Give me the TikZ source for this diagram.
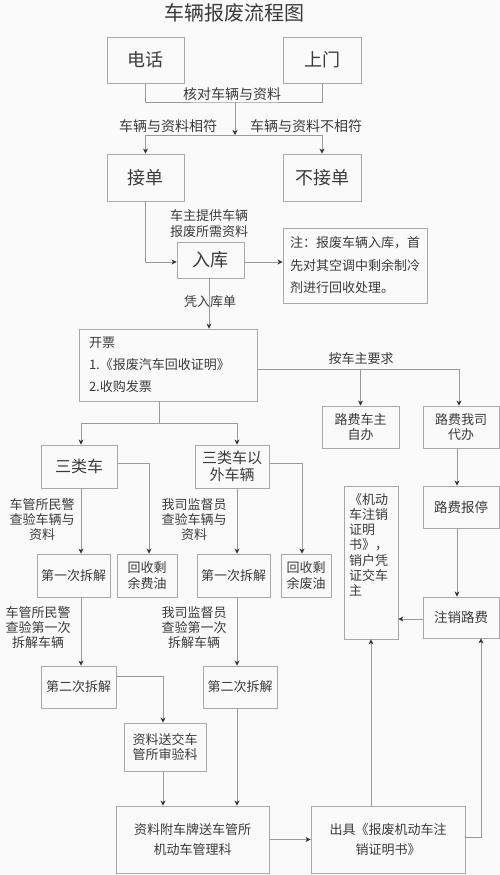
\documentclass[tikz,border=0pt]{standalone}
\usepackage{fontspec}
\setmainfont{Noto Sans CJK SC}
\usetikzlibrary{arrows.meta}
\definecolor{linec}{HTML}{9A9A9A}
\definecolor{boxc}{HTML}{A8A8A8}
\definecolor{txtc}{HTML}{3A3A3A}
\definecolor{tipc}{HTML}{333333}
\definecolor{bgc}{HTML}{FAFAFA}
\begin{document}
\begin{tikzpicture}[x=1pt,y=-1pt,
 box/.style={draw=boxc, line width=0.8pt, inner sep=0pt, text=txtc, align=center},
 bw/.style 2 args={minimum width=#1, minimum height=#2},
 fbig/.style={font=\fontsize{18}{22}\selectfont},
 fsm/.style={font=\fontsize{13}{15}\selectfont},
 lbl/.style={text=txtc, align=center, font=\fontsize{13}{15}\selectfont, inner sep=0pt},
 ln/.style={draw=linec, line width=0.8pt},
 arr/.style={ln, -{Stealth[length=5pt,width=5pt,inset=1.5pt,color=tipc]}},
]
\fill[bgc] (0,0) rectangle (500,875);
\useasboundingbox (0,0) rectangle (500,875);

\node[text=txtc, font=\fontsize{20}{24}\selectfont, inner sep=0pt] (title) at (234,13) {车辆报废流程图};

% boxes
\node[box,bw={77}{46},fbig] (dh) at (145.5,60) {电话};
\node[box,bw={78}{46},fbig] (sm) at (322,60) {上门};
\node[box,bw={77}{47},fbig] (jd) at (145.5,177.5) {接单};
\node[box,bw={78}{47},fbig] (bjd) at (322,177.5) {不接单};
\node[box,bw={67}{36},fbig] (rk) at (210.5,260) {入库};
\node[box,bw={144}{75},align=left,font=\fontsize{13}{22.5}\selectfont] (note) at (355,265.5) {注：报废车辆入库，首\\先对其空调中剩余制冷\\剂进行回收处理。};
\node[box,bw={178}{72},align=left,text width=158pt,font=\fontsize{13}{22}\selectfont] (kp) at (168,365) {开票\\1.《报废汽车回收证明》\\2.收购发票};
\node[box,bw={77}{42},fsm] (lf1) at (360.5,427) {路费车主\\自办};
\node[box,bw={76}{42},fsm] (lf2) at (461,427) {路费我司\\代办};
\node[box,bw={76}{43},font=\fontsize{16}{19}\selectfont] (sl) at (79,466.5) {三类车};
\node[box,bw={74}{43},font=\fontsize{15}{17}\selectfont] (slw) at (232,466.5) {三类车以\\外车辆};
\node[box,bw={73}{43},fsm] (dy1) at (73.5,575.5) {第一次拆解};
\node[box,bw={60}{43},font=\fontsize{13}{16.5}\selectfont] (hs1) at (147,575.5) {回收剩\\余费油};
\node[box,bw={73}{43},fsm] (dy2) at (233.5,575.5) {第一次拆解};
\node[box,bw={50}{43},font=\fontsize{13}{16.5}\selectfont] (hs2) at (306,575.5) {回收剩\\余废油};
\node[box,bw={54}{153},font=\fontsize{13}{15.3}\selectfont] (jx) at (371,562.5) {\parbox[c][141pt][t]{44pt}{\raggedright\vspace*{1pt}《机动\\车注销\\证明\\书》，\\销户凭\\证交车\\主}};
\node[box,bw={76}{42},font=\fontsize{13.5}{16}\selectfont] (lfbt) at (461,507) {路费报停};
\node[box,bw={76}{41},font=\fontsize{13.5}{16}\selectfont] (zx) at (461,617.5) {注销路费};
\node[box,bw={75}{42},fsm] (de1) at (78.5,687) {第二次拆解};
\node[box,bw={74}{42},fsm] (de2) at (240,687) {第二次拆解};
\node[box,bw={82}{48},fsm] (zl) at (165,747) {资料送交车\\管所审验科};
\node[box,bw={153}{67},font=\fontsize{13}{20}\selectfont] (big) at (192.5,839.5) {资料附车牌送车管所\\机动车管理科};
\node[box,bw={154}{67},font=\fontsize{13}{20}\selectfont] (cj) at (388,839.5) {出具《报废机动车注\\销证明书》};

% labels
\node[lbl,font=\fontsize{14}{16}\selectfont] (l1) at (232,94) {核对车辆与资料};
\node[lbl,font=\fontsize{14}{16}\selectfont] (l2) at (168,126) {车辆与资料相符};
\node[lbl,font=\fontsize{14}{16}\selectfont] (l3) at (306,126) {车辆与资料不相符};
\node[lbl,font=\fontsize{13}{16}\selectfont] (l4) at (209,224) {车主提供车辆\\报废所需资料};
\node[lbl] (l5) at (210,302) {凭入库单};
\node[lbl] (l6) at (361,359) {按车主要求};
\node[lbl] (l7) at (42,520) {车管所民警\\查验车辆与\\资料};
\node[lbl] (l8) at (194,520) {我司监督员\\查验车辆与\\资料};
\node[lbl] (l9) at (38,628) {车管所民警\\查验第一次\\拆解车辆};
\node[lbl] (l10) at (194,628) {我司监督员\\查验第一次\\拆解车辆};

% coordinates
\coordinate (c1) at (235,102);
\coordinate (c2) at (235,135);
\coordinate (c3) at (159,423);
\coordinate (colL) at (81,0);
\coordinate (colR) at (237,0);
\coordinate (colM) at (163,0);

% connectors
\draw[ln] (dh.south) |- (c1) -| (sm.south);
\draw[arr] (c1) -- (c2);
\draw[arr] (c2) -| (jd.north);
\draw[arr] (c2) -| (bjd.north);
\draw[arr] (jd.south) |- ([yshift=-2pt]rk.west);
\draw[arr] ([yshift=-2pt]rk.east) -- ([yshift=-2pt]rk.east -| note.west);
\draw[arr] ([xshift=-1.5pt]rk.south) -- ([xshift=-1.5pt]rk.south |- kp.north);
\draw[arr] ([yshift=-4pt]kp.east) -| ([xshift=-2pt]lf2.north);
\draw[arr] ([yshift=-4pt]kp.east -| lf1.north) -- (lf1.north);
\draw[ln] (kp.south -| c3) -- (c3);
\draw[arr] (c3) -| (sl.north -| colL);
\draw[arr] (c3) -| (slw.north -| colR);
\draw[arr] ([yshift=3.5pt]sl.east) -| ([xshift=2pt]hs1.north);
\draw[arr] ([yshift=3.5pt]slw.east) -| ([xshift=-4pt]hs2.north);
\draw[arr] (sl.south -| colL) -- (dy1.north -| colL);
\draw[arr] (slw.south -| colR) -- (dy2.north -| colR);
\draw[arr] (dy1.south -| colL) -- (de1.north -| colL);
\draw[arr] (dy2.south -| colR) -- (de2.north -| colR);
\draw[arr] ([yshift=11pt]de1.east) -| (zl.north -| colM);
\draw[arr] (zl.south -| colM) -- (big.north -| colM);
\draw[arr] (de2.south -| colR) -- (big.north -| colR);
\draw[arr] (big.east) -- (cj.west);
\draw[arr] (cj.north -| jx.south) -- (jx.south);
\draw[arr] ([yshift=2.5pt]cj.east) -| ([xshift=20pt]zx.south);
\draw[arr] ([xshift=-4pt]lf2.south) -- ([xshift=-4pt]lf2.south |- lfbt.north);
\draw[arr] ([xshift=-4pt]lfbt.south) -- ([xshift=-4pt]lfbt.south |- zx.north);
\draw[arr] ([yshift=-1.5pt]zx.west) -- ([yshift=-1.5pt]zx.west -| jx.east);
\end{tikzpicture}
\end{document}
